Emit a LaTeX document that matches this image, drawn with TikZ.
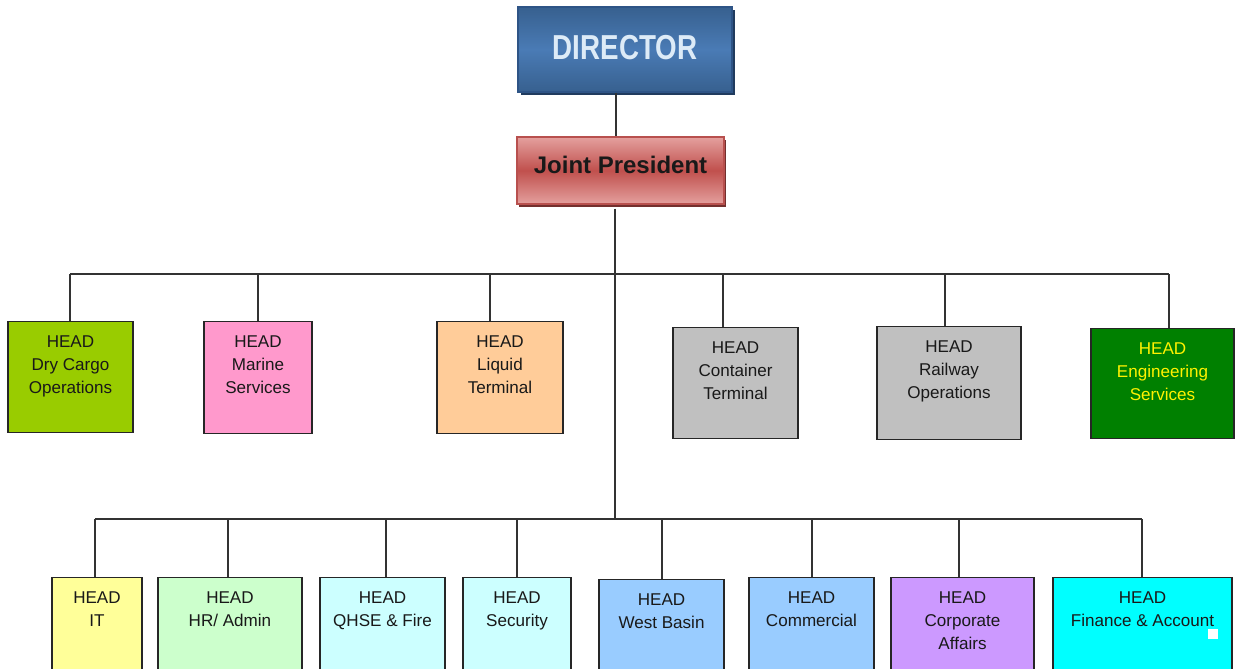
\documentclass[tikz,border=0pt]{standalone}
\usepackage{fontspec}
\setmainfont{Liberation Sans}
\newfontfamily\narrowbold[FakeStretch=0.8]{Liberation Sans Bold}
\usetikzlibrary{positioning,shadows}

\definecolor{dirdark}{HTML}{37608F}
\definecolor{dirlight}{HTML}{4A7BB5}
\definecolor{dirline}{HTML}{2E5486}
\definecolor{dirtext}{HTML}{DDEBF7}
\definecolor{jplight}{HTML}{E4A09E}
\definecolor{jpmid}{HTML}{C0504D}
\definecolor{jpline}{HTML}{B8504E}
\definecolor{limegreen}{HTML}{99CC00}
\definecolor{pinkish}{HTML}{FF99CC}
\definecolor{peach}{HTML}{FFCC99}
\definecolor{silver}{HTML}{C0C0C0}
\definecolor{forest}{HTML}{008000}
\definecolor{paleyellow}{HTML}{FFFF99}
\definecolor{palegreen}{HTML}{CCFFCC}
\definecolor{palecyan}{HTML}{CCFFFF}
\definecolor{skyblue}{HTML}{99CCFF}
\definecolor{lilac}{HTML}{CC99FF}
\definecolor{aqua}{HTML}{00FFFF}

\begin{document}
\begin{tikzpicture}[
        x=0.75pt, y=-0.75pt,
        unit/.style={draw=black!85, line width=1.1pt, fill=#1, anchor=north, inner sep=0pt},
        txt/.style={anchor=north, align=center, inner sep=0pt, yshift=-11pt, text=black!90, font=\fontsize{12.8}{17.25}\selectfont},
        wire/.style={draw=black!80, line width=1.1pt}
    ]
        \clip (0,0) rectangle (1235,668);

        % Director
        \node[draw=dirline, line width=0.8pt, top color=dirdark, bottom color=dirdark, middle color=dirlight,
              minimum width=160.5pt, minimum height=63.75pt, text=dirtext,
              font=\narrowbold\fontsize{26}{30}\selectfont,
              drop shadow={shadow xshift=2.5pt, shadow yshift=-2.5pt, fill=dirline!70!black, opacity=1}] (director) at (625,49.5) {\raisebox{1.5pt}[\height][\depth]{DIRECTOR}};

        % Joint President
        \node[draw=jpline, line width=0.8pt, top color=jplight, bottom color=jplight, middle color=jpmid,
              minimum width=155.25pt, minimum height=50.25pt, text=black!90,
              font=\bfseries\fontsize{18}{22}\selectfont,
              drop shadow={shadow xshift=1.5pt, shadow yshift=-2.5pt, fill=jpmid!60!black, opacity=1}] (jp) at (620.5,170.5) {\raisebox{4pt}[\height][\depth]{Joint President}};

        % Heads, upper row
        \node[unit=limegreen, minimum width=93.75pt, minimum height=83.25pt, label={[txt]north:HEAD\\Dry Cargo\\Operations}] (dry) at (70.5,321) {};
        \node[unit=pinkish, minimum width=81pt, minimum height=84pt, label={[txt]north:HEAD\\Marine\\Services}] (marine) at (258,321) {};
        \node[unit=peach, minimum width=94.5pt, minimum height=84pt, label={[txt]north:HEAD\\Liquid\\Terminal}] (liquid) at (500,321) {};
        \node[unit=silver, minimum width=93.75pt, minimum height=83.25pt, label={[txt]north:HEAD\\Container\\Terminal}] (container) at (735.5,327) {};
        \node[unit=silver, minimum width=108pt, minimum height=84.75pt, label={[txt]north:HEAD\\Railway\\Operations}] (railway) at (949,326) {};
        \node[unit=forest, minimum width=107.25pt, minimum height=82.5pt, label={[txt, text=yellow]north:HEAD\\Engineering\\Services}] (engg) at (1162.5,328) {};

        % Heads, lower row
        \node[unit=paleyellow, minimum width=67.5pt, minimum height=83.25pt, label={[txt]north:HEAD\\IT}] (it) at (97,577) {};
        \node[unit=palegreen, minimum width=108pt, minimum height=83.25pt, label={[txt]north:HEAD\\HR/ Admin}] (hr) at (230,577) {};
        \node[unit=palecyan, minimum width=93.75pt, minimum height=83.25pt, label={[txt]north:HEAD\\QHSE \& Fire}] (qhse) at (382.5,577) {};
        \node[unit=palecyan, minimum width=81pt, minimum height=83.25pt, label={[txt]north:HEAD\\Security}] (security) at (517,577) {};
        \node[unit=skyblue, minimum width=93.75pt, minimum height=83.25pt, label={[txt]north:HEAD\\West Basin}] (west) at (661.5,579) {};
        \node[unit=skyblue, minimum width=93.75pt, minimum height=83.25pt, label={[txt]north:HEAD\\Commercial}] (commercial) at (811.5,577) {};
        \node[unit=lilac, minimum width=107.25pt, minimum height=83.25pt, label={[txt]north:HEAD\\Corporate\\Affairs}] (corporate) at (962.5,577) {};
        \node[unit=aqua, minimum width=134.25pt, minimum height=83.25pt, label={[txt]north:HEAD\\Finance \& Account}] (finance) at (1142.5,577) {};
        \fill[white] (1208,629) rectangle (1218,639);

        % Trunk
        \coordinate (dj) at (616,0);
        \coordinate (bmid) at (615,519);
        \draw[wire] (director.south -| dj) -- (jp.north -| dj);
        \draw[wire] ([yshift=-3pt]jp.south -| bmid) -- (bmid);

        % Upper bus
        \coordinate (tdry) at (70,274);
        \coordinate (tmarine) at (258,274);
        \coordinate (tliquid) at (490,274);
        \coordinate (tcontainer) at (723,274);
        \coordinate (trailway) at (945,274);
        \coordinate (tengg) at (1169,274);
        \draw[wire] (tdry) -- (tengg);
        \draw[wire] (tdry) -- (tdry |- dry.north);
        \draw[wire] (tmarine) -- (tmarine |- marine.north);
        \draw[wire] (tliquid) -- (tliquid |- liquid.north);
        \draw[wire] (tcontainer) -- (tcontainer |- container.north);
        \draw[wire] (trailway) -- (trailway |- railway.north);
        \draw[wire] (tengg) -- (tengg |- engg.north);

        % Lower bus
        \coordinate (bit) at (95,519);
        \coordinate (bhr) at (228,519);
        \coordinate (bqhse) at (386,519);
        \coordinate (bsecurity) at (517,519);
        \coordinate (bwest) at (662,519);
        \coordinate (bcommercial) at (812,519);
        \coordinate (bcorporate) at (959,519);
        \coordinate (bfinance) at (1142,519);
        \draw[wire] (bit) -- (bfinance);
        \draw[wire] (bit) -- (bit |- it.north);
        \draw[wire] (bhr) -- (bhr |- hr.north);
        \draw[wire] (bqhse) -- (bqhse |- qhse.north);
        \draw[wire] (bsecurity) -- (bsecurity |- security.north);
        \draw[wire] (bwest) -- (bwest |- west.north);
        \draw[wire] (bcommercial) -- (bcommercial |- commercial.north);
        \draw[wire] (bcorporate) -- (bcorporate |- corporate.north);
        \draw[wire] (bfinance) -- (bfinance |- finance.north);

    \end{tikzpicture}
\end{document}
